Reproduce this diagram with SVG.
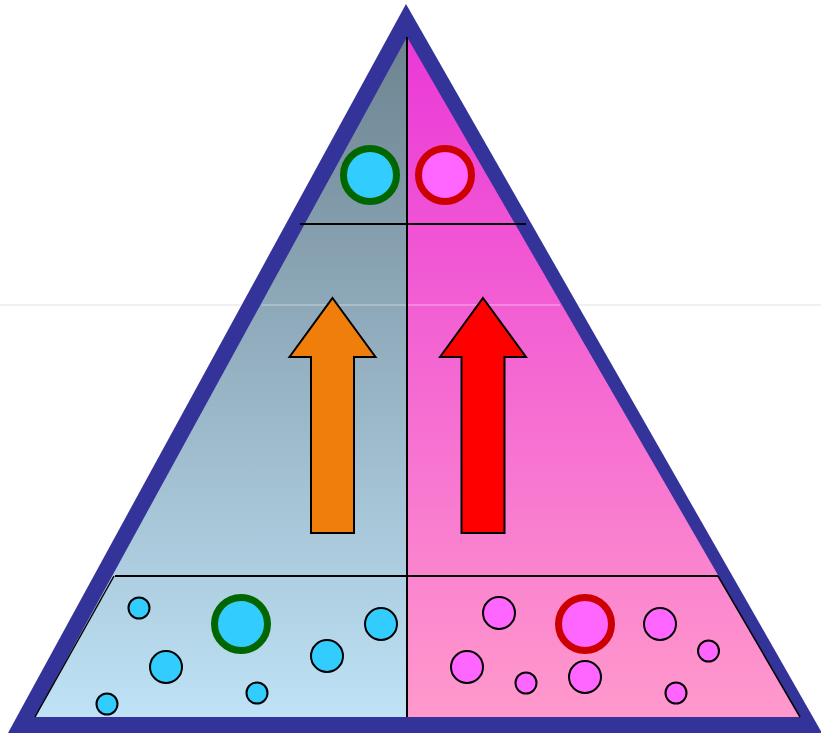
<svg xmlns="http://www.w3.org/2000/svg" width="821" height="733" viewBox="0 0 821 733">
<defs>
<linearGradient id="gL" x1="0" y1="37" x2="0" y2="717" gradientUnits="userSpaceOnUse">
<stop offset="0" stop-color="#6d8390"/>
<stop offset="1" stop-color="#bfe2f6"/>
</linearGradient>
<linearGradient id="gR" x1="0" y1="37" x2="0" y2="717" gradientUnits="userSpaceOnUse">
<stop offset="0" stop-color="#ea38d8"/>
<stop offset="1" stop-color="#ff99cc"/>
</linearGradient>
<style>
.edge{stroke:#000;stroke-width:2;fill:none}
.thin{stroke:#000;stroke-width:1.5;fill:none}
.cb{fill:#33ccff;stroke:#000;stroke-width:2}
.cp{fill:#ff66ff;stroke:#000;stroke-width:2}
.bigb{fill:#33ccff;stroke:#006600;stroke-width:7}
.bigp{fill:#ff66ff;stroke:#cc0000;stroke-width:7}
.arr{stroke:#000;stroke-width:2;stroke-linejoin:miter}
</style>
</defs>
<rect width="821" height="733" fill="#fff"/>
<line x1="0" y1="305" x2="821" y2="305" stroke="#ebebeb" stroke-width="1.5"/>
<g id="frame">
<polygon points="406,4 8,733 822,733" fill="#333399"/>
<polygon points="407,37 35,717 407,717" fill="url(#gL)"/>
<polygon points="407,37 800,717 407,717" fill="url(#gR)"/>
<line x1="262" y1="305" x2="560" y2="305" stroke="#ffffff" stroke-opacity="0.35" stroke-width="1.5"/>
</g>
<g id="dividers">
<line class="edge" x1="407" y1="37" x2="407" y2="717"/>
<line class="edge" x1="300" y1="224" x2="526" y2="224"/>
<line class="edge" x1="115" y1="576" x2="718" y2="576"/>
<line class="thin" x1="114" y1="576" x2="35" y2="717"/>
<line class="thin" x1="718" y1="576" x2="800" y2="717"/>
</g>
<g id="top-circles">
<circle class="bigb" cx="370" cy="175" r="26.5"/>
<circle class="bigp" cx="445" cy="175" r="26.5"/>
</g>
<g id="arrow-orange">
<polygon class="arr" fill="#ef7f0a" points="332.5,298 375.5,357 354,357 354,533 311,533 311,357 289.5,357"/>
</g>
<g id="arrow-red">
<polygon class="arr" fill="#ff0000" points="483,298 526,357 504.5,357 504.5,533 461.5,533 461.5,357 440,357"/>
</g>
<g id="bottom-left">
<circle class="cb" cx="139" cy="608" r="10.5"/>
<circle class="bigb" cx="241" cy="624" r="26.5"/>
<circle class="cb" cx="166" cy="667" r="16"/>
<circle class="cb" cx="327" cy="656" r="16"/>
<circle class="cb" cx="381" cy="624" r="16"/>
<circle class="cb" cx="257" cy="693" r="10.5"/>
<circle class="cb" cx="107" cy="704" r="10.5"/>
</g>
<g id="bottom-right">
<circle class="cp" cx="499" cy="613" r="16"/>
<circle class="bigp" cx="585" cy="624" r="26.5"/>
<circle class="cp" cx="660" cy="624" r="16"/>
<circle class="cp" cx="708.5" cy="651" r="10.5"/>
<circle class="cp" cx="467" cy="667" r="16"/>
<circle class="cp" cx="526" cy="683" r="10.5"/>
<circle class="cp" cx="585" cy="677" r="16"/>
<circle class="cp" cx="676" cy="693" r="10.5"/>
</g>
</svg>
